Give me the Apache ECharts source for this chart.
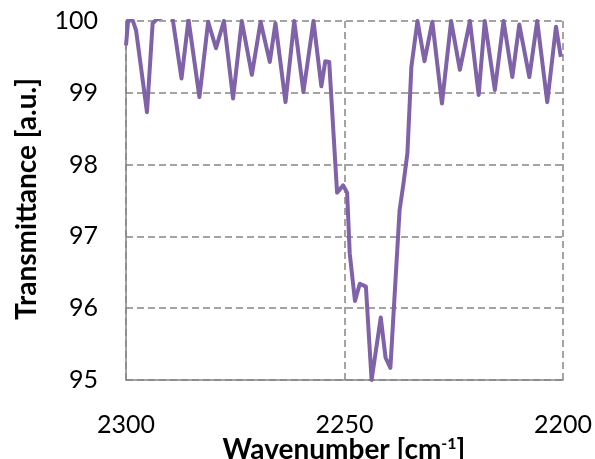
<!DOCTYPE html>
<html>
<head>
<meta charset="utf-8">
<script src="https://cdn.jsdelivr.net/npm/echarts@6/dist/echarts.min.js"></script>
<style>
  html, body { margin: 0; padding: 0; background: #fff; }
  #main { width: 595px; height: 459px; }
</style>
</head>
<body>
<div id="main"></div>
<script>
// wavenumber [cm-1] and transmittance [a.u.]
var waveNumbers = [
  2300.0, 2299.5, 2298.4, 2297.7, 2295.2, 2293.9, 2293.0, 2291.8, 2290.7, 2289.3,
  2287.3, 2285.7, 2283.2, 2281.2, 2279.4, 2277.6, 2275.5, 2273.5, 2271.2, 2269.2,
  2267.1, 2265.8, 2263.5, 2261.5, 2259.4, 2257.1, 2255.3, 2254.4, 2253.5, 2251.7,
  2250.3, 2249.4, 2248.8, 2247.6, 2246.5, 2245.1, 2243.8, 2241.7, 2240.6, 2239.5,
  2237.4, 2236.5, 2235.6, 2234.7, 2233.3, 2231.7, 2229.9, 2227.7, 2225.6, 2223.6,
  2221.3, 2219.3, 2217.9, 2215.6, 2213.6, 2211.6, 2210.0, 2207.7, 2205.9, 2203.6,
  2201.6, 2200.5
];
var transmittance = [
  99.66, 100.02, 100.0, 99.87, 98.73, 99.97, 100.02, 100.05, 100.4, 100.02,
  99.20, 100.02, 98.94, 99.99, 99.62, 100.0, 98.92, 100.0, 99.25, 99.99,
  99.43, 99.97, 98.87, 100.0, 99.01, 100.0, 99.09, 99.44, 99.43, 97.61,
  97.71, 97.61, 96.76, 96.10, 96.34, 96.30, 95.0, 95.87, 95.31, 95.17,
  97.36, 97.74, 98.16, 99.36, 100.0, 99.44, 99.99, 98.85, 100.0, 99.32,
  100.0, 98.97, 100.0, 99.04, 100.0, 99.22, 99.95, 99.22, 100.0, 98.87,
  99.92, 99.5
];
var xTicks = { min: 2200, max: 2300, step: 50 };
var yTicks = { min: 95, max: 100, step: 1 };

var points = waveNumbers.map(function (w, i) { return [w, transmittance[i]]; });

var chart = echarts.init(document.getElementById('main'), null, { renderer: 'canvas' });
var gridColor = '#878787';
var labelFont = 'Lato, "Open Sans", sans-serif';

var option = {
  animation: false,
  grid: { left: 126, right: 30, top: 21, bottom: 79, containLabel: false },
  xAxis: {
    type: 'value',
    inverse: true,
    min: xTicks.min, max: xTicks.max, interval: xTicks.step,
    axisLine: { show: true, lineStyle: { color: gridColor, width: 1.5 } },
    axisTick: { show: false },
    axisLabel: {
      margin: 32, fontSize: 25, color: '#000', fontFamily: labelFont,
      formatter: function (v) { return String(v); }
    },
    splitLine: { show: true, lineStyle: { color: gridColor, width: 1.5, type: [7, 4] } }
  },
  yAxis: {
    type: 'value',
    min: yTicks.min, max: yTicks.max, interval: yTicks.step,
    axisLine: { show: true, lineStyle: { color: gridColor, width: 1.5 } },
    axisTick: { show: false },
    axisLabel: { margin: 28, fontSize: 25, color: '#000', fontFamily: labelFont },
    splitLine: { show: true, lineStyle: { color: gridColor, width: 1.5, type: [7, 4] } }
  },
  series: [{
    type: 'line',
    data: points,
    showSymbol: false,
    clip: true,
    lineStyle: { color: '#7f62a8', width: 4, join: 'round' }
  }],
  graphic: [
    {
      type: 'text', x: 27, y: 199, rotation: Math.PI / 2,
      style: {
        text: 'Transmittance [a.u.]', fill: '#000',
        font: 'bold 28px ' + labelFont, align: 'center', verticalAlign: 'middle'
      }
    },
    {
      type: 'text', x: 344, y: 436,
      style: {
        text: '{m|Wavenumber [cm}{s|-1}{m|]}',
        align: 'center', verticalAlign: 'top',
        rich: {
          m: { font: 'bold 28px ' + labelFont, fill: '#000' },
          s: { font: 'bold 16px ' + labelFont, fill: '#000', verticalAlign: 'top', padding: [0, 0, 12, 0] }
        }
      }
    }
  ]
};
chart.setOption(option);
</script>
</body>
</html>
